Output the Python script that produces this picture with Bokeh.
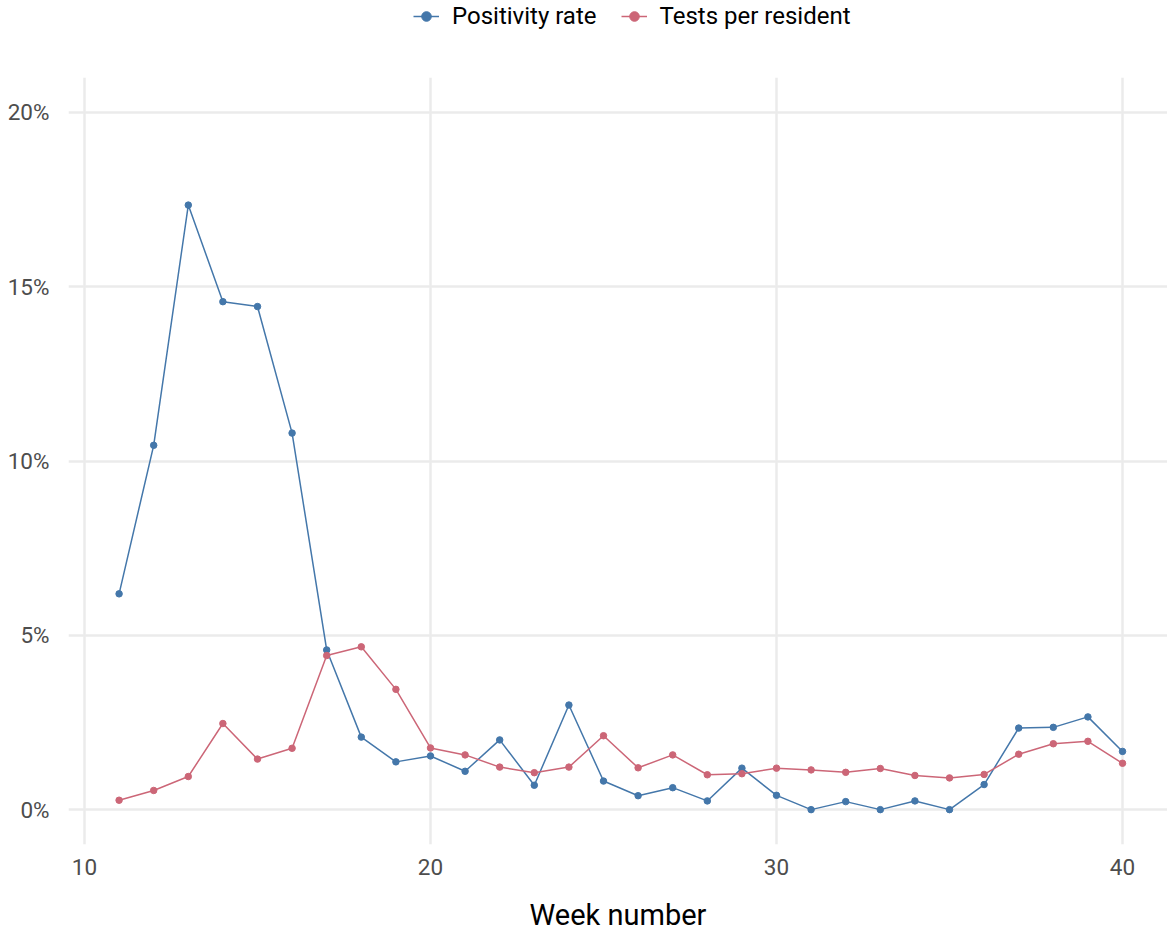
from bokeh.plotting import figure
from bokeh.layouts import column
from bokeh.models import (Range1d, FixedTicker, PrintfTickFormatter, Legend, LegendItem)
from bokeh.embed import file_html
from bokeh.resources import INLINE

weeks = list(range(11, 41))
positivity_rate = [6.19, 10.45, 17.34, 14.57, 14.43, 10.80, 4.58, 2.08, 1.37, 1.54,
                   1.10, 2.00, 0.70, 3.00, 0.82, 0.40, 0.63, 0.25, 1.19, 0.41,
                   0.00, 0.23, 0.00, 0.25, 0.00, 0.72, 2.34, 2.36, 2.66, 1.67]
tests_per_resident = [0.27, 0.55, 0.95, 2.47, 1.45, 1.76, 4.42, 4.67, 3.45, 1.77,
                      1.57, 1.22, 1.06, 1.22, 2.12, 1.20, 1.57, 1.00, 1.03, 1.19,
                      1.14, 1.07, 1.18, 0.98, 0.91, 1.01, 1.59, 1.89, 1.96, 1.33]
x_ticks = [10, 20, 30, 40]
y_ticks = [0, 5, 10, 15, 20]
series_names = ["Positivity rate", "Tests per resident"]
colors = ["#4477AA", "#CC6677"]
series_values = [positivity_rate, tests_per_resident]

FONT = "Roboto"
LEG_H = 36

# ---- legend strip (top) ----
pl = figure(width=1167, height=LEG_H, output_backend="svg", toolbar_location=None,
            x_range=Range1d(0, 1), y_range=Range1d(0, 1),
            min_border_left=0, min_border_right=0, min_border_top=0, min_border_bottom=0)
pl.axis.visible = False
pl.grid.visible = False
pl.outline_line_color = None
items = []
for name, ys, c in zip(series_names, series_values, colors):
    l = pl.line(weeks, ys, line_color=c, line_width=1.5)
    s = pl.scatter(weeks, ys, size=5.5, fill_color=c, line_color=c)
    items.append(LegendItem(label=name, renderers=[l, s]))
legend = Legend(items=items, orientation="horizontal", location=(345, 6),
                label_text_font=FONT, label_text_font_size="24px", label_text_color="black",
                glyph_width=26, glyph_height=24, label_height=24, spacing=24,
                label_standoff=13, padding=0, margin=0,
                border_line_color=None, background_fill_alpha=0)
pl.add_layout(legend, "center")

# ---- main chart ----
p = figure(width=1167, height=934 - LEG_H, output_backend="svg", toolbar_location=None,
           x_range=Range1d(9.538, 41.30), y_range=Range1d(-1.0, 21.0),
           min_border_left=68, min_border_right=0, min_border_top=77 - LEG_H,
           min_border_bottom=90)
p.outline_line_color = None
p.background_fill_color = "white"
p.border_fill_color = "white"

for ax in (p.xaxis[0], p.yaxis[0]):
    ax.axis_line_color = None
    ax.major_tick_line_color = None
    ax.minor_tick_line_color = None
    ax.major_label_text_font = FONT
    ax.major_label_text_font_size = "22.5px"
    ax.major_label_text_color = "#4D4D4D"

p.xaxis.ticker = FixedTicker(ticks=x_ticks)
p.yaxis.ticker = FixedTicker(ticks=y_ticks)
p.yaxis.formatter = PrintfTickFormatter(format="%d%%")
p.xaxis.major_label_standoff = 8
p.yaxis.major_label_standoff = 13
p.xaxis.axis_label = "Week number"
p.xaxis.axis_label_text_font = FONT
p.xaxis.axis_label_text_font_size = "29px"
p.xaxis.axis_label_text_font_style = "normal"
p.xaxis.axis_label_text_color = "black"
p.xaxis.axis_label_standoff = 20

for g in (p.xgrid[0], p.ygrid[0]):
    g.grid_line_color = "#EBEBEB"
    g.grid_line_width = 2.5
    g.minor_grid_line_color = None

for ys, c in zip(series_values, colors):
    p.line(weeks, ys, line_color=c, line_width=1.5)
    p.scatter(weeks, ys, size=6.5, fill_color=c, line_color=c)

layout = column(pl, p, spacing=0)
open("out.html", "w").write(file_html(layout, INLINE))
